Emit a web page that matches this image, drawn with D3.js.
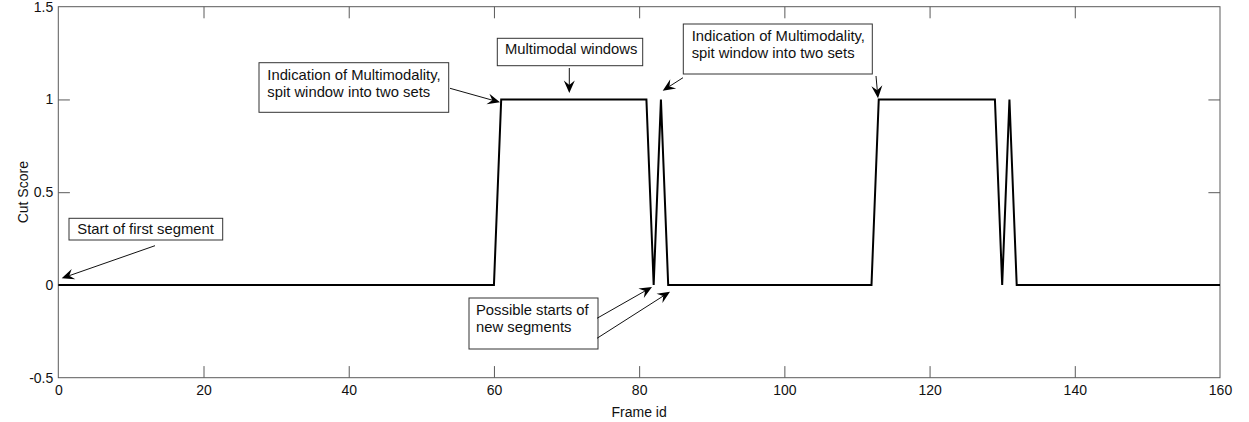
<!DOCTYPE html>
<html>
<head>
<meta charset="utf-8">
<script src="https://cdn.jsdelivr.net/npm/d3@7"></script>
<style>
  html, body { margin: 0; padding: 0; background: #fff; }
  svg { display: block; font-family: "Liberation Sans", Arial, sans-serif; }
</style>
</head>
<body>
<svg id="grafico" width="1249" height="422"></svg>
<script>
// turning points of the cut score trace
const frames = [0, 60, 61, 81, 82, 83, 84, 112, 113, 129, 130, 131, 132, 160];
const scores = [0, 0, 1, 1, 0, 1, 0, 0, 1, 1, 0, 1, 0, 0];

const xTicks = [0, 20, 40, 60, 80, 100, 120, 140, 160];
const yTicks = [-0.5, 0, 0.5, 1, 1.5];

const notes = [
  { lines: ["Start of first segment"], box: [69, 218.3, 153.7, 21.7], text: [77.3, 234.3],
    arrows: [[155, 245.7, 61.7, 278.3]] },
  { lines: ["Indication of Multimodality,", "spit window into two sets"], box: [259, 62.7, 189.7, 49.6], text: [267.3, 80],
    arrows: [[450, 88.3, 500, 102.3]] },
  { lines: ["Multimodal windows"], box: [497.3, 38.3, 145.4, 27.4], text: [505, 54.3],
    arrows: [[569.3, 68, 569.3, 93]] },
  { lines: ["Indication of Multimodality,", "spit window into two sets"], box: [683.3, 24, 189, 50], text: [691.7, 41],
    arrows: [[683, 77.7, 662.7, 90.7], [876, 76, 878, 98.3]] },
  { lines: ["Possible starts of", "new segments"], box: [469, 298, 129, 51], text: [476, 315],
    arrows: [[597, 318.3, 652, 287], [597, 338.3, 670, 291.7]] }
];

const svg = d3.select("#grafico");
const width = +svg.attr("width");
const height = +svg.attr("height");
const margin = { top: 6.7, right: 29, bottom: 44.3, left: 58.3 };
const w = width - margin.left - margin.right;
const h = height - margin.top - margin.bottom;

const x = d3.scaleLinear().domain([0, 160]).range([0, w]);
const y = d3.scaleLinear().domain([-0.5, 1.5]).range([h, 0]);

const g = svg.append("g").attr("transform", `translate(${margin.left},${margin.top})`);

const tick = 11.6;
const axisColor = "#5a5a5a";

function styleAxis(sel, labels) {
  sel.select(".domain").remove();
  sel.selectAll(".tick line").attr("stroke", axisColor).attr("stroke-width", 1);
  sel.selectAll(".tick text")
    .attr("fill", "#111")
    .style("font-size", "14px")
    .style("font-family", "'Liberation Sans', Arial, sans-serif");
  if (!labels) sel.selectAll(".tick text").remove();
}

g.append("g").attr("transform", `translate(0,${h})`)
  .call(d3.axisBottom(x).tickValues(xTicks).tickFormat(d3.format("d")).tickSize(-tick).tickPadding(7))
  .call(s => styleAxis(s, true));
g.append("g")
  .call(d3.axisTop(x).tickValues(xTicks).tickSize(-tick))
  .call(s => styleAxis(s, false));
g.append("g")
  .call(d3.axisLeft(y).tickValues(yTicks).tickFormat(d => String(d)).tickSize(-tick).tickPadding(5))
  .call(s => styleAxis(s, true));
g.append("g").attr("transform", `translate(${w},0)`)
  .call(d3.axisRight(y).tickValues(yTicks).tickSize(-tick))
  .call(s => styleAxis(s, false));

// remove the end ticks that sit on the frame corners
g.selectAll(".tick").filter(d => d === 0 || d === 160 || d === -0.5 || d === 1.5).select("line").remove();

g.append("rect")
  .attr("x", 0).attr("y", 0).attr("width", w).attr("height", h)
  .attr("fill", "none").attr("stroke", axisColor).attr("stroke-width", 1);

const line = d3.line().x(d => x(d[0])).y(d => y(d[1]));
g.append("path")
  .datum(frames.map((f, i) => [f, scores[i]]))
  .attr("d", line)
  .attr("fill", "none")
  .attr("stroke", "#000")
  .attr("stroke-width", 2)
  .attr("stroke-linejoin", "miter");

svg.append("text")
  .attr("x", margin.left + w / 2).attr("y", 417)
  .attr("text-anchor", "middle")
  .style("font-size", "14px")
  .attr("fill", "#111")
  .text("Frame id");

svg.append("text")
  .attr("transform", `translate(28,${margin.top + y(0.5)}) rotate(-90)`)
  .attr("text-anchor", "middle")
  .style("font-size", "14px")
  .attr("fill", "#111")
  .text("Cut Score");

// annotations
const ann = svg.append("g");
notes.forEach(n => {
  const [bx, by, bw, bh] = n.box;
  ann.append("rect")
    .attr("x", bx).attr("y", by).attr("width", bw).attr("height", bh)
    .attr("fill", "#fff").attr("stroke", "#333").attr("stroke-width", 1);
  n.lines.forEach((t, i) => {
    ann.append("text")
      .attr("x", n.text[0]).attr("y", n.text[1] + i * 16.5)
      .style("font-size", "14.8px")
      .attr("fill", "#111")
      .text(t);
  });
  n.arrows.forEach(([x1, y1, x2, y2]) => {
    const a = Math.atan2(y2 - y1, x2 - x1);
    const len = 12.5, half = 5.5, notch = 8;
    const ux = Math.cos(a), uy = Math.sin(a);
    const px = -uy, py = ux;
    ann.append("line")
      .attr("x1", x1).attr("y1", y1)
      .attr("x2", x2 - ux * notch).attr("y2", y2 - uy * notch)
      .attr("stroke", "#111").attr("stroke-width", 1);
    const bx1 = x2 - ux * len + px * half, by1 = y2 - uy * len + py * half;
    const bx2 = x2 - ux * len - px * half, by2 = y2 - uy * len - py * half;
    const nx = x2 - ux * notch, ny = y2 - uy * notch;
    ann.append("path")
      .attr("d", `M${x2},${y2}L${bx1},${by1}L${nx},${ny}L${bx2},${by2}Z`)
      .attr("fill", "#000");
  });
});
</script>
</body>
</html>
